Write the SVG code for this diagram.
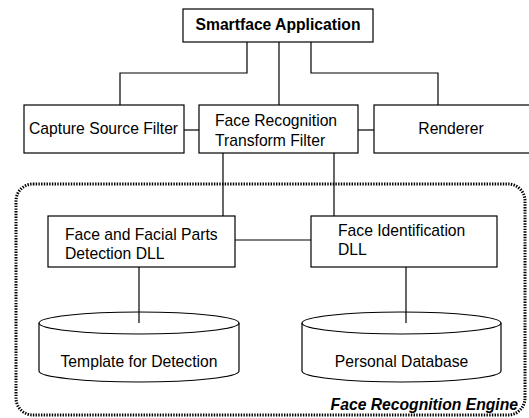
<svg xmlns="http://www.w3.org/2000/svg" width="529" height="418" viewBox="0 0 529 418">
<style>
.box{fill:#fff;stroke:#000;stroke-width:1.2}
.ln{fill:none;stroke:#000;stroke-width:1.2}
.t{font-family:"Liberation Sans",Arial,sans-serif;font-size:15.7px;fill:#000}
.b{font-weight:bold}
.c{text-anchor:middle}
</style>
<rect width="529" height="418" fill="#fff"/>
<g id="engine">
<rect x="16" y="184" width="509" height="231" rx="17" ry="17" fill="none" stroke="#000" stroke-width="3" stroke-dasharray="1.4 1.3"/>
<text class="t b" x="518" y="410" text-anchor="end" font-style="italic">Face Recognition Engine</text>
</g>
<g id="connectors">
<path class="ln" d="M247 42V73H120V105"/>
<path class="ln" d="M279 42V105"/>
<path class="ln" d="M311 42V73H438V105"/>
<path class="ln" d="M184 130H199"/>
<path class="ln" d="M358 130H374"/>
<path class="ln" d="M223 153V216"/>
<path class="ln" d="M334 153V216"/>
<path class="ln" d="M235 240H311"/>
<path class="ln" d="M139 267V323"/>
<path class="ln" d="M406 267V323"/>
</g>
<g id="smartface">
<rect class="box" x="183" y="9" width="190" height="33"/>
<text class="t b c" x="278" y="30">Smartface Application</text>
</g>
<g id="capture">
<rect class="box" x="24" y="105" width="160" height="48"/>
<text class="t" x="29" y="134">Capture Source Filter</text>
</g>
<g id="transform">
<rect class="box" x="199" y="105" width="159" height="48"/>
<text class="t" x="215" y="126">Face Recognition</text>
<text class="t" x="215" y="146">Transform Filter</text>
</g>
<g id="renderer">
<rect class="box" x="374" y="105" width="156" height="48"/>
<text class="t c" x="451" y="134">Renderer</text>
</g>
<g id="detection">
<rect class="box" x="48" y="216" width="187" height="51"/>
<text class="t" x="65" y="240">Face and Facial Parts</text>
<text class="t" x="65" y="259">Detection DLL</text>
</g>
<g id="identification">
<rect class="box" x="311" y="216" width="186" height="51"/>
<text class="t" x="338" y="236">Face Identification</text>
<text class="t" x="338" y="255">DLL</text>
</g>
<g id="template">
<path class="box" d="M39 323V371A100 11 0 0 0 239 371V323"/>
<ellipse class="box" cx="139" cy="323" rx="100" ry="11"/>
<line class="ln" x1="139" y1="312" x2="139" y2="323"/>
<text class="t c" x="139" y="367">Template for Detection</text>
</g>
<g id="personal">
<path class="box" d="M302 323V371A99.5 11 0 0 0 501 371V323"/>
<ellipse class="box" cx="401.5" cy="323" rx="99.5" ry="11"/>
<line class="ln" x1="406" y1="312" x2="406" y2="323"/>
<text class="t c" x="401.5" y="367">Personal Database</text>
</g>
</svg>
